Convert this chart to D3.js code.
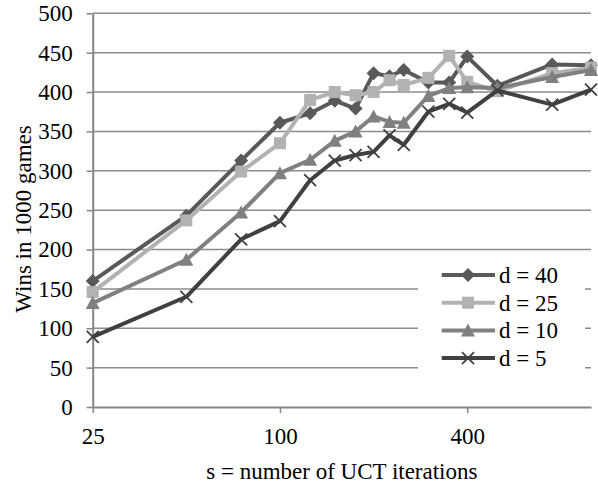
<!DOCTYPE html>
<html>
<head>
<meta charset="utf-8">
<script src="https://cdn.jsdelivr.net/npm/d3@7"></script>
<style>
  body { margin: 0; background: #fff; }
  svg text { font-family: 'Liberation Serif', 'Times New Roman', Times, 'DejaVu Serif', serif; fill: #000; }
</style>
</head>
<body>
<div id="chart"></div>
<script>
const iterations = [25, 50, 75, 100, 125, 150, 175, 200, 225, 250, 300, 350, 400, 500, 750, 1000];
const d40 = [160, 243, 313, 361, 373, 389, 379, 424, 420, 428, 412, 412, 445, 408, 435, 434];
const d25 = [146, 237, 299, 335, 390, 400, 396, 400, 415, 409, 418, 446, 413, 401, 424, 431];
const d10 = [132, 187, 247, 297, 314, 338, 350, 369, 362, 361, 395, 405, 406, 405, 419, 428];
const d5 = [89, 140, 213, 236, 288, 313, 320, 324, 345, 333, 375, 385, 374, 402, 384, 403];
const seriesNames = ['d = 40', 'd = 25', 'd = 10', 'd = 5'];
const xTicks = [25, 100, 400];
const yTicks = [0, 50, 100, 150, 200, 250, 300, 350, 400, 450, 500];

const series = [
  { name: seriesNames[0], values: d40, color: '#595959', marker: 'diamond' },
  { name: seriesNames[1], values: d25, color: '#b2b2b2', marker: 'square' },
  { name: seriesNames[2], values: d10, color: '#808080', marker: 'triangle' },
  { name: seriesNames[3], values: d5, color: '#404040', marker: 'cross' }
];

const width = 598, height = 485;
const plotLeft = 92.7, plotRight = 591, plotTop = 13.3, plotBottom = 407;
const serif = "'Liberation Serif', 'Times New Roman', 'DejaVu Serif', serif";

const svg = d3.select('#chart')
  .append('svg')
  .attr('width', width)
  .attr('height', height)
  .attr('font-family', serif);

const x = d3.scaleLog()
  .base(4)
  .domain([25, 1000])
  .range([plotLeft, plotRight]);

const y = d3.scaleLinear()
  .domain([0, 500])
  .range([plotBottom, plotTop]);

// gridlines
svg.append('g')
  .selectAll('line')
  .data(yTicks.filter(d => d > 0))
  .join('line')
  .attr('x1', plotLeft)
  .attr('x2', plotRight)
  .attr('y1', d => y(d))
  .attr('y2', d => y(d))
  .attr('stroke', '#8c8c8c')
  .attr('stroke-width', 1.5);

// y axis
const yAxis = svg.append('g')
  .attr('transform', `translate(${plotLeft},0)`)
  .call(d3.axisLeft(y).tickValues(yTicks).tickSize(6).tickSizeOuter(0).tickPadding(14));
yAxis.attr('font-family', serif).attr('font-size', 23);
yAxis.select('.domain').attr('stroke', '#868686').attr('stroke-width', 2);
yAxis.selectAll('.tick line').attr('stroke', '#868686').attr('stroke-width', 1.5);
yAxis.selectAll('.tick text').attr('fill', '#000');

// x axis
const xAxis = svg.append('g')
  .attr('transform', `translate(0,${plotBottom})`)
  .call(d3.axisBottom(x).tickValues(xTicks).tickFormat(d3.format('d')).tickSize(6).tickSizeOuter(0));
xAxis.attr('font-family', serif).attr('font-size', 23);
xAxis.select('.domain').attr('stroke', '#868686').attr('stroke-width', 2);
xAxis.selectAll('.tick line').attr('stroke', '#868686').attr('stroke-width', 1.5);
xAxis.selectAll('.tick text')
  .attr('fill', '#000')
  .attr('y', 37)
  .attr('dy', 0);

function drawMarker(g, type, color) {
  if (type === 'diamond') {
    g.append('path').attr('d', 'M0,-7L7,0L0,7L-7,0Z').attr('fill', color);
  } else if (type === 'square') {
    g.append('rect').attr('x', -6).attr('y', -6).attr('width', 12).attr('height', 12).attr('fill', color);
  } else if (type === 'triangle') {
    g.append('path').attr('d', 'M0,-7L7,6L-7,6Z').attr('fill', color);
  } else {
    g.append('path').attr('d', 'M-6,-6L6,6M6,-6L-6,6')
      .attr('stroke', color).attr('stroke-width', 1.8).attr('fill', 'none');
  }
}

const line = d3.line()
  .x((d, i) => x(iterations[i]))
  .y(d => y(d));

series.forEach(s => {
  svg.append('path')
    .datum(s.values)
    .attr('fill', 'none')
    .attr('stroke', s.color)
    .attr('stroke-width', 4)
    .attr('stroke-linejoin', 'round')
    .attr('d', line);

  s.values.forEach((v, i) => {
    const g = svg.append('g')
      .attr('transform', `translate(${x(iterations[i])},${y(v)})`);
    drawMarker(g, s.marker, s.color);
  });
});

// legend
const legend = svg.append('g');
legend.append('rect')
  .attr('x', 418)
  .attr('y', 256)
  .attr('width', 167)
  .attr('height', 134)
  .attr('fill', '#fff');

series.forEach((s, i) => {
  const ly = 275 + i * 27.7;
  legend.append('line')
    .attr('x1', 441.7)
    .attr('x2', 495)
    .attr('y1', ly)
    .attr('y2', ly)
    .attr('stroke', s.color)
    .attr('stroke-width', 4);
  const g = legend.append('g').attr('transform', `translate(468,${ly})`);
  drawMarker(g, s.marker, s.color);
  legend.append('text')
    .attr('x', 499)
    .attr('y', ly + 8)
    .attr('font-size', 23)
    .text(s.name);
});

// axis titles
svg.append('text')
  .attr('x', (plotLeft + plotRight) / 2)
  .attr('y', 479)
  .attr('text-anchor', 'middle')
  .attr('font-size', 23)
  .text('s = number of UCT iterations');

svg.append('text')
  .attr('x', -219)
  .attr('y', 31)
  .attr('text-anchor', 'middle')
  .attr('transform', 'rotate(-90)')
  .attr('font-size', 23)
  .text('Wins in 1000 games');
</script>
</body>
</html>
